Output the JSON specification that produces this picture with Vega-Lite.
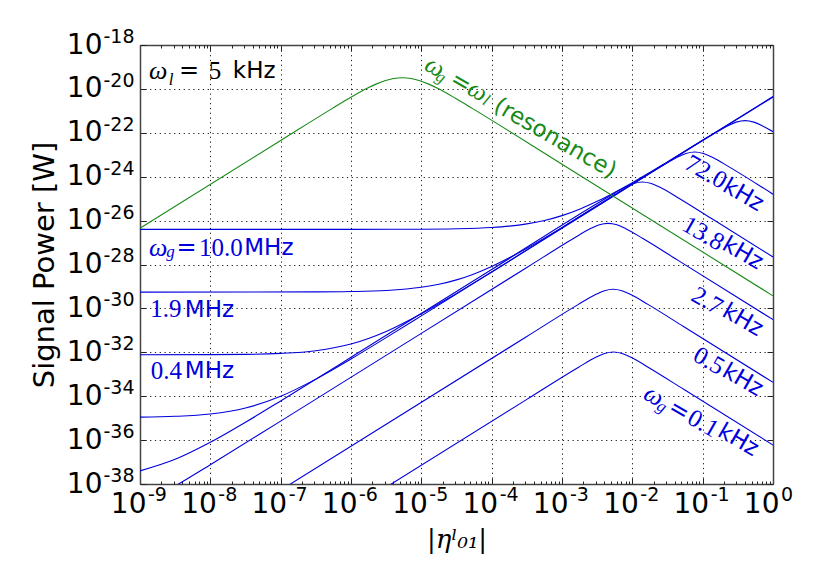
{
  "$schema": "https://vega.github.io/schema/vega-lite/v6.json",
  "width": 633,
  "height": 439,
  "autosize": {"type": "none"},
  "padding": {"left": 140, "top": 45, "right": 57, "bottom": 104},
  "background": "white",
  "config": {
    "view": {"stroke": null},
    "axis": {"labelFont": "DejaVu Sans", "titleFont": "DejaVu Sans", "labelColor": "#000000", "titleColor": "#000000", "tickColor": "#222222"}
  },
  "datasets": {
    "curves": [
      {"curve": "0.1 kHz", "kind": "detuned", "eta": 3.162e-6, "power": 7.153e-39},
      {"curve": "0.1 kHz", "kind": "detuned", "eta": 3.162e-4, "power": 7.153e-35},
      {"curve": "0.1 kHz", "kind": "detuned", "eta": 1.698e-3, "power": 2.042e-33},
      {"curve": "0.1 kHz", "kind": "detuned", "eta": 3.020e-3, "power": 5.929e-33},
      {"curve": "0.1 kHz", "kind": "detuned", "eta": 4.027e-3, "power": 8.810e-33},
      {"curve": "0.1 kHz", "kind": "detuned", "eta": 5.370e-3, "power": 1.030e-32},
      {"curve": "0.1 kHz", "kind": "detuned", "eta": 7.161e-3, "power": 8.810e-33},
      {"curve": "0.1 kHz", "kind": "detuned", "eta": 9.550e-3, "power": 5.929e-33},
      {"curve": "0.1 kHz", "kind": "detuned", "eta": 1.698e-2, "power": 2.042e-33},
      {"curve": "0.1 kHz", "kind": "detuned", "eta": 5.370e-2, "power": 2.061e-34},
      {"curve": "0.1 kHz", "kind": "detuned", "eta": 1, "power": 5.943e-37},

      {"curve": "0.5 kHz", "kind": "detuned", "eta": 1e-7, "power": 5.260e-39},
      {"curve": "0.5 kHz", "kind": "detuned", "eta": 3.162e-4, "power": 5.260e-32},
      {"curve": "0.5 kHz", "kind": "detuned", "eta": 1.689e-3, "power": 1.484e-30},
      {"curve": "0.5 kHz", "kind": "detuned", "eta": 3.003e-3, "power": 4.309e-30},
      {"curve": "0.5 kHz", "kind": "detuned", "eta": 4.005e-3, "power": 6.405e-30},
      {"curve": "0.5 kHz", "kind": "detuned", "eta": 5.341e-3, "power": 7.496e-30},
      {"curve": "0.5 kHz", "kind": "detuned", "eta": 7.122e-3, "power": 6.406e-30},
      {"curve": "0.5 kHz", "kind": "detuned", "eta": 9.498e-3, "power": 4.310e-30},
      {"curve": "0.5 kHz", "kind": "detuned", "eta": 1.689e-2, "power": 1.484e-30},
      {"curve": "0.5 kHz", "kind": "detuned", "eta": 5.341e-2, "power": 1.500e-31},
      {"curve": "0.5 kHz", "kind": "detuned", "eta": 1, "power": 4.277e-34},

      {"curve": "2.7 kHz", "kind": "detuned", "eta": 1e-9, "power": 9.908e-40},
      {"curve": "2.7 kHz", "kind": "detuned", "eta": 3.162e-9, "power": 8.082e-39},
      {"curve": "2.7 kHz", "kind": "detuned", "eta": 1e-8, "power": 7.543e-38},
      {"curve": "2.7 kHz", "kind": "detuned", "eta": 1e-7, "power": 7.328e-36},
      {"curve": "2.7 kHz", "kind": "detuned", "eta": 3.162e-4, "power": 7.295e-29},
      {"curve": "2.7 kHz", "kind": "detuned", "eta": 1.433e-3, "power": 1.486e-27},
      {"curve": "2.7 kHz", "kind": "detuned", "eta": 2.548e-3, "power": 4.315e-27},
      {"curve": "2.7 kHz", "kind": "detuned", "eta": 3.398e-3, "power": 6.412e-27},
      {"curve": "2.7 kHz", "kind": "detuned", "eta": 4.531e-3, "power": 7.499e-27},
      {"curve": "2.7 kHz", "kind": "detuned", "eta": 6.043e-3, "power": 6.412e-27},
      {"curve": "2.7 kHz", "kind": "detuned", "eta": 8.059e-3, "power": 4.305e-27},
      {"curve": "2.7 kHz", "kind": "detuned", "eta": 1.433e-2, "power": 1.483e-27},
      {"curve": "2.7 kHz", "kind": "detuned", "eta": 4.531e-2, "power": 1.500e-28},
      {"curve": "2.7 kHz", "kind": "detuned", "eta": 1, "power": 3.076e-31},

      {"curve": "13.8 kHz", "kind": "detuned", "eta": 1e-9, "power": 3.944e-38},
      {"curve": "13.8 kHz", "kind": "detuned", "eta": 3.162e-9, "power": 1.329e-37},
      {"curve": "13.8 kHz", "kind": "detuned", "eta": 1e-8, "power": 7.912e-37},
      {"curve": "13.8 kHz", "kind": "detuned", "eta": 3.162e-8, "power": 6.500e-36},
      {"curve": "13.8 kHz", "kind": "detuned", "eta": 1e-7, "power": 6.083e-35},
      {"curve": "13.8 kHz", "kind": "detuned", "eta": 3.162e-7, "power": 5.953e-34},
      {"curve": "13.8 kHz", "kind": "detuned", "eta": 1e-6, "power": 5.913e-33},
      {"curve": "13.8 kHz", "kind": "detuned", "eta": 1e-4, "power": 5.894e-29},
      {"curve": "13.8 kHz", "kind": "detuned", "eta": 4.403e-3, "power": 1.132e-25},
      {"curve": "13.8 kHz", "kind": "detuned", "eta": 7.830e-3, "power": 3.285e-25},
      {"curve": "13.8 kHz", "kind": "detuned", "eta": 1.044e-2, "power": 4.882e-25},
      {"curve": "13.8 kHz", "kind": "detuned", "eta": 1.392e-2, "power": 5.713e-25},
      {"curve": "13.8 kHz", "kind": "detuned", "eta": 1.857e-2, "power": 4.882e-25},
      {"curve": "13.8 kHz", "kind": "detuned", "eta": 2.476e-2, "power": 3.285e-25},
      {"curve": "13.8 kHz", "kind": "detuned", "eta": 4.403e-2, "power": 1.131e-25},
      {"curve": "13.8 kHz", "kind": "detuned", "eta": 1.392e-1, "power": 1.143e-26},
      {"curve": "13.8 kHz", "kind": "detuned", "eta": 1, "power": 2.216e-28},

      {"curve": "72.0 kHz", "kind": "detuned", "eta": 1e-9, "power": 1.113e-35},
      {"curve": "72.0 kHz", "kind": "detuned", "eta": 3.162e-9, "power": 1.212e-35},
      {"curve": "72.0 kHz", "kind": "detuned", "eta": 1e-8, "power": 1.552e-35},
      {"curve": "72.0 kHz", "kind": "detuned", "eta": 3.162e-8, "power": 2.907e-35},
      {"curve": "72.0 kHz", "kind": "detuned", "eta": 1e-7, "power": 9.968e-35},
      {"curve": "72.0 kHz", "kind": "detuned", "eta": 3.162e-7, "power": 6.003e-34},
      {"curve": "72.0 kHz", "kind": "detuned", "eta": 1e-6, "power": 4.959e-33},
      {"curve": "72.0 kHz", "kind": "detuned", "eta": 3.162e-6, "power": 4.650e-32},
      {"curve": "72.0 kHz", "kind": "detuned", "eta": 1e-5, "power": 4.554e-31},
      {"curve": "72.0 kHz", "kind": "detuned", "eta": 1e-4, "power": 4.519e-29},
      {"curve": "72.0 kHz", "kind": "detuned", "eta": 2.438e-2, "power": 2.655e-24},
      {"curve": "72.0 kHz", "kind": "detuned", "eta": 4.336e-2, "power": 7.709e-24},
      {"curve": "72.0 kHz", "kind": "detuned", "eta": 5.782e-2, "power": 1.146e-23},
      {"curve": "72.0 kHz", "kind": "detuned", "eta": 7.711e-2, "power": 1.341e-23},
      {"curve": "72.0 kHz", "kind": "detuned", "eta": 1.028e-1, "power": 1.146e-23},
      {"curve": "72.0 kHz", "kind": "detuned", "eta": 1.371e-1, "power": 7.709e-24},
      {"curve": "72.0 kHz", "kind": "detuned", "eta": 2.438e-1, "power": 2.655e-24},
      {"curve": "72.0 kHz", "kind": "detuned", "eta": 1, "power": 1.595e-25},

      {"curve": "0.4 MHz", "kind": "detuned", "eta": 1e-9, "power": 7.709e-33},
      {"curve": "0.4 MHz", "kind": "detuned", "eta": 3.162e-8, "power": 8.061e-33},
      {"curve": "0.4 MHz", "kind": "detuned", "eta": 1e-7, "power": 8.902e-33},
      {"curve": "0.4 MHz", "kind": "detuned", "eta": 3.162e-7, "power": 1.184e-32},
      {"curve": "0.4 MHz", "kind": "detuned", "eta": 1e-6, "power": 2.387e-32},
      {"curve": "0.4 MHz", "kind": "detuned", "eta": 3.162e-6, "power": 8.942e-32},
      {"curve": "0.4 MHz", "kind": "detuned", "eta": 1e-5, "power": 5.715e-31},
      {"curve": "0.4 MHz", "kind": "detuned", "eta": 3.162e-5, "power": 4.845e-30},
      {"curve": "0.4 MHz", "kind": "detuned", "eta": 1e-4, "power": 4.585e-29},
      {"curve": "0.4 MHz", "kind": "detuned", "eta": 3.162e-4, "power": 4.505e-28},
      {"curve": "0.4 MHz", "kind": "detuned", "eta": 1e-3, "power": 4.479e-27},
      {"curve": "0.4 MHz", "kind": "detuned", "eta": 1e-2, "power": 4.468e-25},
      {"curve": "0.4 MHz", "kind": "detuned", "eta": 1.266e-1, "power": 7.089e-23},
      {"curve": "0.4 MHz", "kind": "detuned", "eta": 2.251e-1, "power": 2.058e-22},
      {"curve": "0.4 MHz", "kind": "detuned", "eta": 3.002e-1, "power": 3.059e-22},
      {"curve": "0.4 MHz", "kind": "detuned", "eta": 4.003e-1, "power": 3.580e-22},
      {"curve": "0.4 MHz", "kind": "detuned", "eta": 5.338e-1, "power": 3.059e-22},
      {"curve": "0.4 MHz", "kind": "detuned", "eta": 7.119e-1, "power": 2.058e-22},
      {"curve": "0.4 MHz", "kind": "detuned", "eta": 1, "power": 1.119e-22},

      {"curve": "1.9 MHz", "kind": "detuned", "eta": 1e-9, "power": 5.532e-30},
      {"curve": "1.9 MHz", "kind": "detuned", "eta": 3.162e-7, "power": 5.632e-30},
      {"curve": "1.9 MHz", "kind": "detuned", "eta": 1e-6, "power": 5.850e-30},
      {"curve": "1.9 MHz", "kind": "detuned", "eta": 3.162e-6, "power": 6.571e-30},
      {"curve": "1.9 MHz", "kind": "detuned", "eta": 1e-5, "power": 9.122e-30},
      {"curve": "1.9 MHz", "kind": "detuned", "eta": 1.778e-5, "power": 1.253e-29},
      {"curve": "1.9 MHz", "kind": "detuned", "eta": 3.162e-5, "power": 1.994e-29},
      {"curve": "1.9 MHz", "kind": "detuned", "eta": 5.623e-5, "power": 3.733e-29},
      {"curve": "1.9 MHz", "kind": "detuned", "eta": 1e-4, "power": 8.164e-29},
      {"curve": "1.9 MHz", "kind": "detuned", "eta": 1.778e-4, "power": 2.027e-28},
      {"curve": "1.9 MHz", "kind": "detuned", "eta": 3.162e-4, "power": 5.516e-28},
      {"curve": "1.9 MHz", "kind": "detuned", "eta": 1e-3, "power": 4.786e-27},
      {"curve": "1.9 MHz", "kind": "detuned", "eta": 3.162e-3, "power": 4.568e-26},
      {"curve": "1.9 MHz", "kind": "detuned", "eta": 1e-2, "power": 4.499e-25},
      {"curve": "1.9 MHz", "kind": "detuned", "eta": 1e-1, "power": 4.468e-23},
      {"curve": "1.9 MHz", "kind": "detuned", "eta": 1, "power": 4.240e-21},

      {"curve": "10.0 MHz", "kind": "detuned", "eta": 1e-9, "power": 3.981e-27},
      {"curve": "10.0 MHz", "kind": "detuned", "eta": 1e-6, "power": 3.990e-27},
      {"curve": "10.0 MHz", "kind": "detuned", "eta": 1e-5, "power": 4.066e-27},
      {"curve": "10.0 MHz", "kind": "detuned", "eta": 3.162e-5, "power": 4.252e-27},
      {"curve": "10.0 MHz", "kind": "detuned", "eta": 1e-4, "power": 4.869e-27},
      {"curve": "10.0 MHz", "kind": "detuned", "eta": 1.778e-4, "power": 5.622e-27},
      {"curve": "10.0 MHz", "kind": "detuned", "eta": 3.162e-4, "power": 7.094e-27},
      {"curve": "10.0 MHz", "kind": "detuned", "eta": 5.623e-4, "power": 1.014e-26},
      {"curve": "10.0 MHz", "kind": "detuned", "eta": 1e-3, "power": 1.688e-26},
      {"curve": "10.0 MHz", "kind": "detuned", "eta": 1.778e-3, "power": 3.311e-26},
      {"curve": "10.0 MHz", "kind": "detuned", "eta": 3.162e-3, "power": 7.533e-26},
      {"curve": "10.0 MHz", "kind": "detuned", "eta": 1e-2, "power": 5.351e-25},
      {"curve": "10.0 MHz", "kind": "detuned", "eta": 3.162e-2, "power": 4.738e-24},
      {"curve": "10.0 MHz", "kind": "detuned", "eta": 1e-1, "power": 4.552e-23},
      {"curve": "10.0 MHz", "kind": "detuned", "eta": 3.162e-1, "power": 4.494e-22},
      {"curve": "10.0 MHz", "kind": "detuned", "eta": 1, "power": 4.475e-21},

      {"curve": "resonance", "kind": "resonance", "eta": 1e-9, "power": 4.467e-27},
      {"curve": "resonance", "kind": "resonance", "eta": 1e-7, "power": 4.464e-23},
      {"curve": "resonance", "kind": "resonance", "eta": 5.370e-7, "power": 1.263e-21},
      {"curve": "resonance", "kind": "resonance", "eta": 9.550e-7, "power": 3.828e-21},
      {"curve": "resonance", "kind": "resonance", "eta": 1.698e-6, "power": 1.065e-20},
      {"curve": "resonance", "kind": "resonance", "eta": 2.265e-6, "power": 1.651e-20},
      {"curve": "resonance", "kind": "resonance", "eta": 3.020e-6, "power": 2.351e-20},
      {"curve": "resonance", "kind": "resonance", "eta": 4.027e-6, "power": 2.968e-20},
      {"curve": "resonance", "kind": "resonance", "eta": 5.370e-6, "power": 3.221e-20},
      {"curve": "resonance", "kind": "resonance", "eta": 7.161e-6, "power": 2.968e-20},
      {"curve": "resonance", "kind": "resonance", "eta": 9.550e-6, "power": 2.351e-20},
      {"curve": "resonance", "kind": "resonance", "eta": 1.274e-5, "power": 1.651e-20},
      {"curve": "resonance", "kind": "resonance", "eta": 1.698e-5, "power": 1.065e-20},
      {"curve": "resonance", "kind": "resonance", "eta": 3.020e-5, "power": 3.828e-21},
      {"curve": "resonance", "kind": "resonance", "eta": 5.370e-5, "power": 1.263e-21},
      {"curve": "resonance", "kind": "resonance", "eta": 1e-3, "power": 3.715e-24},
      {"curve": "resonance", "kind": "resonance", "eta": 1, "power": 3.715e-30}
    ],
    "flatSymbols": [
      {"text": "ω", "kind": "note", "eta": 1.82e-9, "power": 6.47e-20},
      {"text": "ω", "kind": "detuned", "eta": 1.82e-9, "power": 5.765e-28}
    ],
    "flatSubscripts": [
      {"text": "l", "kind": "note", "eta": 2.76e-9, "power": 2.68e-20},
      {"text": "g", "kind": "detuned", "eta": 2.72e-9, "power": 3.522e-28}
    ],
    "flatOperators": [
      {"text": "=", "kind": "note", "eta": 4.97e-9, "power": 6.47e-20},
      {"text": "=", "kind": "detuned", "eta": 4.6e-9, "power": 5.765e-28}
    ],
    "flatNumbers": [
      {"text": "5", "kind": "note", "eta": 1.165e-8, "power": 6.47e-20},
      {"text": "10.0", "kind": "detuned", "eta": 1.409e-8, "power": 5.765e-28},
      {"text": "1.9", "kind": "detuned", "eta": 2.327e-9, "power": 8.911e-31},
      {"text": "0.4", "kind": "detuned", "eta": 2.366e-9, "power": 1.392e-33}
    ],
    "flatUnits": [
      {"text": "kHz", "kind": "note", "eta": 4.205e-8, "power": 6.27e-20},
      {"text": "MHz", "kind": "detuned", "eta": 6.8e-8, "power": 5.587e-28},
      {"text": "MHz", "kind": "detuned", "eta": 9.7e-9, "power": 8.634e-31},
      {"text": "MHz", "kind": "detuned", "eta": 9.7e-9, "power": 1.348e-33}
    ],
    "slopedSymbols": [
      {"text": "ω", "kind": "detuned", "eta": 2.035e-2, "power": 1.054e-34},
      {"text": "ω", "kind": "resonance", "eta": 1.565e-5, "power": 1.027e-19},
      {"text": "ω", "kind": "resonance", "eta": 6.334e-5, "power": 8.022e-21}
    ],
    "slopedSubscripts": [
      {"text": "g", "kind": "detuned", "eta": 2.618e-2, "power": 3.324e-35},
      {"text": "g", "kind": "resonance", "eta": 1.887e-5, "power": 3.377e-20},
      {"text": "l", "kind": "resonance", "eta": 8.312e-5, "power": 2.9e-21}
    ],
    "slopedOperators": [
      {"text": "=", "kind": "detuned", "eta": 4.612e-2, "power": 2.185e-35},
      {"text": "=", "kind": "resonance", "eta": 3.631e-5, "power": 1.917e-20}
    ],
    "slopedNumbers": [
      {"text": "72.0", "kind": "detuned", "eta": 0.1116, "power": 1.69e-24},
      {"text": "13.8", "kind": "detuned", "eta": 0.1022, "power": 2.639e-27},
      {"text": "2.7", "kind": "detuned", "eta": 0.1165, "power": 2.243e-30},
      {"text": "0.5", "kind": "detuned", "eta": 0.123, "power": 4.14e-33},
      {"text": "0.1", "kind": "detuned", "eta": 0.1022, "power": 5.828e-36}
    ],
    "slopedUnits": [
      {"text": "kHz", "kind": "detuned", "eta": 0.3785, "power": 1.467e-25},
      {"text": "kHz", "kind": "detuned", "eta": 0.3712, "power": 3.238e-28},
      {"text": "kHz", "kind": "detuned", "eta": 0.3712, "power": 2.962e-31},
      {"text": "kHz", "kind": "detuned", "eta": 0.3712, "power": 5.47e-34},
      {"text": "kHz", "kind": "detuned", "eta": 0.3214, "power": 1.011e-36},
      {"text": "(resonance)", "kind": "resonance", "eta": 7.958e-4, "power": 5.616e-23}
    ]
  },
  "resolve": {"axis": {"x": "independent", "y": "independent"}},
  "layer": [
    {
      "data": {"name": "curves"},
      "mark": {"type": "line", "interpolate": "monotone", "strokeWidth": 1.1, "clip": true},
      "encoding": {
        "x": {"field": "eta", "type": "quantitative", "scale": {"type": "log", "domain": [1e-9, 1], "nice": false},
          "axis": {"orient": "bottom", "values": [1e-9, 1e-8, 1e-7, 1e-6, 1e-5, 1e-4, 0.001, 0.01, 0.1, 1], "labelExpr": "'10'", "labelAlign": "right", "labelBaseline": "top", "labelOffset": 6, "labelPadding": 6, "labelFontSize": 28, "labelOverlap": false, "labelFlush": false, "labelBound": false, "ticks": false, "domain": false, "grid": true, "gridColor": "#000000", "gridDash": [1.2, 3.6], "gridOpacity": 0.9, "gridWidth": 1,
            "title": "|ηˡ₀₁|", "titleFont": "DejaVu Serif", "titleFontStyle": "italic", "titleFontWeight": "normal", "titleFontSize": 26, "titleX": 316.5, "titleY": 63, "titleAlign": "center", "titleBaseline": "alphabetic", "titleAngle": 0}},
        "y": {"field": "power", "type": "quantitative", "scale": {"type": "log", "domain": [1e-38, 1e-18], "nice": false},
          "axis": {"orient": "left", "values": [1e-38, 1e-36, 1e-34, 1e-32, 1e-30, 1e-28, 1e-26, 1e-24, 1e-22, 1e-20, 1e-18], "labelExpr": "'10'", "labelAlign": "right", "labelBaseline": "middle", "labelPadding": 38, "labelFontSize": 28, "labelOverlap": false, "labelFlush": false, "labelBound": false, "ticks": false, "domain": false, "grid": true, "gridColor": "#000000", "gridDash": [1.2, 3.6], "gridOpacity": 0.9, "gridWidth": 1,
            "title": "Signal Power [W]", "titleFont": "DejaVu Sans", "titleFontWeight": "normal", "titleFontSize": 29, "titleX": -86.5, "titleY": 219.5, "titleAlign": "center", "titleBaseline": "alphabetic", "titleAngle": -90}},
        "color": {"field": "kind", "type": "nominal", "scale": {"domain": ["detuned", "resonance", "note"], "range": ["#0000dd", "#178a17", "#000000"]}, "legend": null},
        "detail": {"field": "curve", "type": "nominal"}
      }
    },
    {
      "data": {"name": "flatSymbols"},
      "mark": {"type": "text", "font": "Liberation Serif", "fontStyle": "italic", "fontSize": 26, "align": "center", "baseline": "middle"},
      "encoding": {
        "x": {"field": "eta", "type": "quantitative", "scale": {"type": "log", "domain": [1e-9, 1], "nice": false},
          "axis": {"orient": "bottom", "values": [1e-9, 1e-8, 1e-7, 1e-6, 1e-5, 1e-4, 0.001, 0.01, 0.1, 1], "labelExpr": "'' + round(log(datum.value) / LN10)", "labelAlign": "left", "labelBaseline": "top", "labelOffset": 7.5, "labelPadding": 1.5, "labelFontSize": 19, "labelOverlap": false, "labelFlush": false, "labelBound": false, "ticks": false, "domain": false, "grid": false, "title": null}},
        "y": {"field": "power", "type": "quantitative", "scale": {"type": "log", "domain": [1e-38, 1e-18], "nice": false},
          "axis": {"orient": "left", "values": [1e-38, 1e-36, 1e-34, 1e-32, 1e-30, 1e-28, 1e-26, 1e-24, 1e-22, 1e-20, 1e-18], "labelExpr": "'' + round(log(datum.value) / LN10)", "labelAlign": "right", "labelBaseline": "middle", "labelOffset": -8.6, "labelPadding": 6, "labelFontSize": 19, "labelOverlap": false, "labelFlush": false, "labelBound": false, "ticks": false, "domain": false, "grid": false, "title": null}},
        "text": {"field": "text", "type": "nominal"},
        "color": {"field": "kind", "type": "nominal", "scale": {"domain": ["detuned", "resonance", "note"], "range": ["#0000dd", "#178a17", "#000000"]}, "legend": null}
      }
    },
    {
      "data": {"name": "flatSubscripts"},
      "mark": {"type": "text", "font": "Liberation Serif", "fontStyle": "italic", "fontSize": 17, "align": "center", "baseline": "middle"},
      "encoding": {
        "x": {"field": "eta", "type": "quantitative", "scale": {"type": "log", "domain": [1e-9, 1], "nice": false},
          "axis": {"orient": "bottom", "values": [1e-9, 1e-8, 1e-7, 1e-6, 1e-5, 1e-4, 0.001, 0.01, 0.1, 1], "labels": false, "ticks": true, "tickSize": -6, "tickWidth": 1, "tickColor": "#222222", "domain": true, "domainColor": "#444444", "domainWidth": 1.5, "grid": false, "title": null}},
        "y": {"field": "power", "type": "quantitative", "scale": {"type": "log", "domain": [1e-38, 1e-18], "nice": false},
          "axis": {"orient": "left", "values": [1e-38, 1e-36, 1e-34, 1e-32, 1e-30, 1e-28, 1e-26, 1e-24, 1e-22, 1e-20, 1e-18], "labels": false, "ticks": true, "tickSize": -6, "tickWidth": 1, "tickColor": "#222222", "domain": true, "domainColor": "#444444", "domainWidth": 1.5, "grid": false, "title": null}},
        "text": {"field": "text", "type": "nominal"},
        "color": {"field": "kind", "type": "nominal", "scale": {"domain": ["detuned", "resonance", "note"], "range": ["#0000dd", "#178a17", "#000000"]}, "legend": null}
      }
    },
    {
      "data": {"name": "flatNumbers"},
      "mark": {"type": "text", "font": "Liberation Serif", "fontSize": 25, "align": "center", "baseline": "middle"},
      "encoding": {
        "x": {"field": "eta", "type": "quantitative", "scale": {"type": "log", "domain": [1e-9, 1], "nice": false},
          "axis": {"orient": "bottom", "values": [2e-9, 3e-9, 4e-9, 5e-9, 6e-9, 7e-9, 8e-9, 9e-9, 2e-8, 3e-8, 4e-8, 5e-8, 6e-8, 7e-8, 8e-8, 9e-8, 2e-7, 3e-7, 4e-7, 5e-7, 6e-7, 7e-7, 8e-7, 9e-7, 2e-6, 3e-6, 4e-6, 5e-6, 6e-6, 7e-6, 8e-6, 9e-6, 2e-5, 3e-5, 4e-5, 5e-5, 6e-5, 7e-5, 8e-5, 9e-5, 2e-4, 3e-4, 4e-4, 5e-4, 6e-4, 7e-4, 8e-4, 9e-4, 0.002, 0.003, 0.004, 0.005, 0.006, 0.007, 0.008, 0.009, 0.02, 0.03, 0.04, 0.05, 0.06, 0.07, 0.08, 0.09, 0.2, 0.3, 0.4, 0.5, 0.6, 0.7, 0.8, 0.9], "labels": false, "ticks": true, "tickSize": -3, "tickWidth": 1, "tickColor": "#222222", "domain": false, "grid": false, "title": null}},
        "y": {"field": "power", "type": "quantitative", "scale": {"type": "log", "domain": [1e-38, 1e-18], "nice": false},
          "axis": {"orient": "right", "values": [1e-38, 1e-36, 1e-34, 1e-32, 1e-30, 1e-28, 1e-26, 1e-24, 1e-22, 1e-20, 1e-18], "labels": false, "ticks": true, "tickSize": -6, "tickWidth": 1, "tickColor": "#222222", "domain": true, "domainColor": "#444444", "domainWidth": 1.5, "grid": false, "title": null}},
        "text": {"field": "text", "type": "nominal"},
        "color": {"field": "kind", "type": "nominal", "scale": {"domain": ["detuned", "resonance", "note"], "range": ["#0000dd", "#178a17", "#000000"]}, "legend": null}
      }
    },
    {
      "data": {"name": "flatUnits"},
      "mark": {"type": "text", "font": "DejaVu Sans", "fontSize": 23, "align": "center", "baseline": "middle"},
      "encoding": {
        "x": {"field": "eta", "type": "quantitative", "scale": {"type": "log", "domain": [1e-9, 1], "nice": false},
          "axis": {"orient": "top", "values": [1e-9, 1e-8, 1e-7, 1e-6, 1e-5, 1e-4, 0.001, 0.01, 0.1, 1], "labels": false, "ticks": true, "tickSize": -6, "tickWidth": 1, "tickColor": "#222222", "domain": true, "domainColor": "#444444", "domainWidth": 1.5, "grid": false, "title": null}},
        "y": {"field": "power", "type": "quantitative", "scale": {"type": "log", "domain": [1e-38, 1e-18], "nice": false}, "axis": null},
        "text": {"field": "text", "type": "nominal"},
        "color": {"field": "kind", "type": "nominal", "scale": {"domain": ["detuned", "resonance", "note"], "range": ["#0000dd", "#178a17", "#000000"]}, "legend": null}
      }
    },
    {
      "data": {"name": "slopedSymbols"},
      "mark": {"type": "text", "font": "Liberation Serif", "fontStyle": "italic", "fontSize": 26, "align": "center", "baseline": "middle", "angle": 30},
      "encoding": {
        "x": {"field": "eta", "type": "quantitative", "scale": {"type": "log", "domain": [1e-9, 1], "nice": false},
          "axis": {"orient": "top", "values": [2e-9, 3e-9, 4e-9, 5e-9, 6e-9, 7e-9, 8e-9, 9e-9, 2e-8, 3e-8, 4e-8, 5e-8, 6e-8, 7e-8, 8e-8, 9e-8, 2e-7, 3e-7, 4e-7, 5e-7, 6e-7, 7e-7, 8e-7, 9e-7, 2e-6, 3e-6, 4e-6, 5e-6, 6e-6, 7e-6, 8e-6, 9e-6, 2e-5, 3e-5, 4e-5, 5e-5, 6e-5, 7e-5, 8e-5, 9e-5, 2e-4, 3e-4, 4e-4, 5e-4, 6e-4, 7e-4, 8e-4, 9e-4, 0.002, 0.003, 0.004, 0.005, 0.006, 0.007, 0.008, 0.009, 0.02, 0.03, 0.04, 0.05, 0.06, 0.07, 0.08, 0.09, 0.2, 0.3, 0.4, 0.5, 0.6, 0.7, 0.8, 0.9], "labels": false, "ticks": true, "tickSize": -3, "tickWidth": 1, "tickColor": "#222222", "domain": false, "grid": false, "title": null}},
        "y": {"field": "power", "type": "quantitative", "scale": {"type": "log", "domain": [1e-38, 1e-18], "nice": false}, "axis": null},
        "text": {"field": "text", "type": "nominal"},
        "color": {"field": "kind", "type": "nominal", "scale": {"domain": ["detuned", "resonance", "note"], "range": ["#0000dd", "#178a17", "#000000"]}, "legend": null}
      }
    },
    {
      "data": {"name": "slopedSubscripts"},
      "mark": {"type": "text", "font": "Liberation Serif", "fontStyle": "italic", "fontSize": 17, "align": "center", "baseline": "middle", "angle": 30},
      "encoding": {
        "x": {"field": "eta", "type": "quantitative", "scale": {"type": "log", "domain": [1e-9, 1], "nice": false}, "axis": null},
        "y": {"field": "power", "type": "quantitative", "scale": {"type": "log", "domain": [1e-38, 1e-18], "nice": false}, "axis": null},
        "text": {"field": "text", "type": "nominal"},
        "color": {"field": "kind", "type": "nominal", "scale": {"domain": ["detuned", "resonance", "note"], "range": ["#0000dd", "#178a17", "#000000"]}, "legend": null}
      }
    },
    {
      "data": {"name": "flatOperators"},
      "mark": {"type": "text", "font": "DejaVu Sans", "fontSize": 24, "align": "center", "baseline": "middle"},
      "encoding": {
        "x": {"field": "eta", "type": "quantitative", "scale": {"type": "log", "domain": [1e-9, 1], "nice": false}, "axis": null},
        "y": {"field": "power", "type": "quantitative", "scale": {"type": "log", "domain": [1e-38, 1e-18], "nice": false}, "axis": null},
        "text": {"field": "text", "type": "nominal"},
        "color": {"field": "kind", "type": "nominal", "scale": {"domain": ["detuned", "resonance", "note"], "range": ["#0000dd", "#178a17", "#000000"]}, "legend": null}
      }
    },
    {
      "data": {"name": "slopedOperators"},
      "mark": {"type": "text", "font": "DejaVu Sans", "fontSize": 24, "align": "center", "baseline": "middle", "angle": 30},
      "encoding": {
        "x": {"field": "eta", "type": "quantitative", "scale": {"type": "log", "domain": [1e-9, 1], "nice": false}, "axis": null},
        "y": {"field": "power", "type": "quantitative", "scale": {"type": "log", "domain": [1e-38, 1e-18], "nice": false}, "axis": null},
        "text": {"field": "text", "type": "nominal"},
        "color": {"field": "kind", "type": "nominal", "scale": {"domain": ["detuned", "resonance", "note"], "range": ["#0000dd", "#178a17", "#000000"]}, "legend": null}
      }
    },
    {
      "data": {"name": "slopedNumbers"},
      "mark": {"type": "text", "font": "Liberation Serif", "fontSize": 25, "align": "center", "baseline": "middle", "angle": 30},
      "encoding": {
        "x": {"field": "eta", "type": "quantitative", "scale": {"type": "log", "domain": [1e-9, 1], "nice": false}, "axis": null},
        "y": {"field": "power", "type": "quantitative", "scale": {"type": "log", "domain": [1e-38, 1e-18], "nice": false}, "axis": null},
        "text": {"field": "text", "type": "nominal"},
        "color": {"field": "kind", "type": "nominal", "scale": {"domain": ["detuned", "resonance", "note"], "range": ["#0000dd", "#178a17", "#000000"]}, "legend": null}
      }
    },
    {
      "data": {"name": "slopedUnits"},
      "mark": {"type": "text", "font": "DejaVu Sans", "fontSize": 23, "align": "center", "baseline": "middle", "angle": 30},
      "encoding": {
        "x": {"field": "eta", "type": "quantitative", "scale": {"type": "log", "domain": [1e-9, 1], "nice": false}, "axis": null},
        "y": {"field": "power", "type": "quantitative", "scale": {"type": "log", "domain": [1e-38, 1e-18], "nice": false}, "axis": null},
        "text": {"field": "text", "type": "nominal"},
        "color": {"field": "kind", "type": "nominal", "scale": {"domain": ["detuned", "resonance", "note"], "range": ["#0000dd", "#178a17", "#000000"]}, "legend": null}
      }
    }
  ]
}
